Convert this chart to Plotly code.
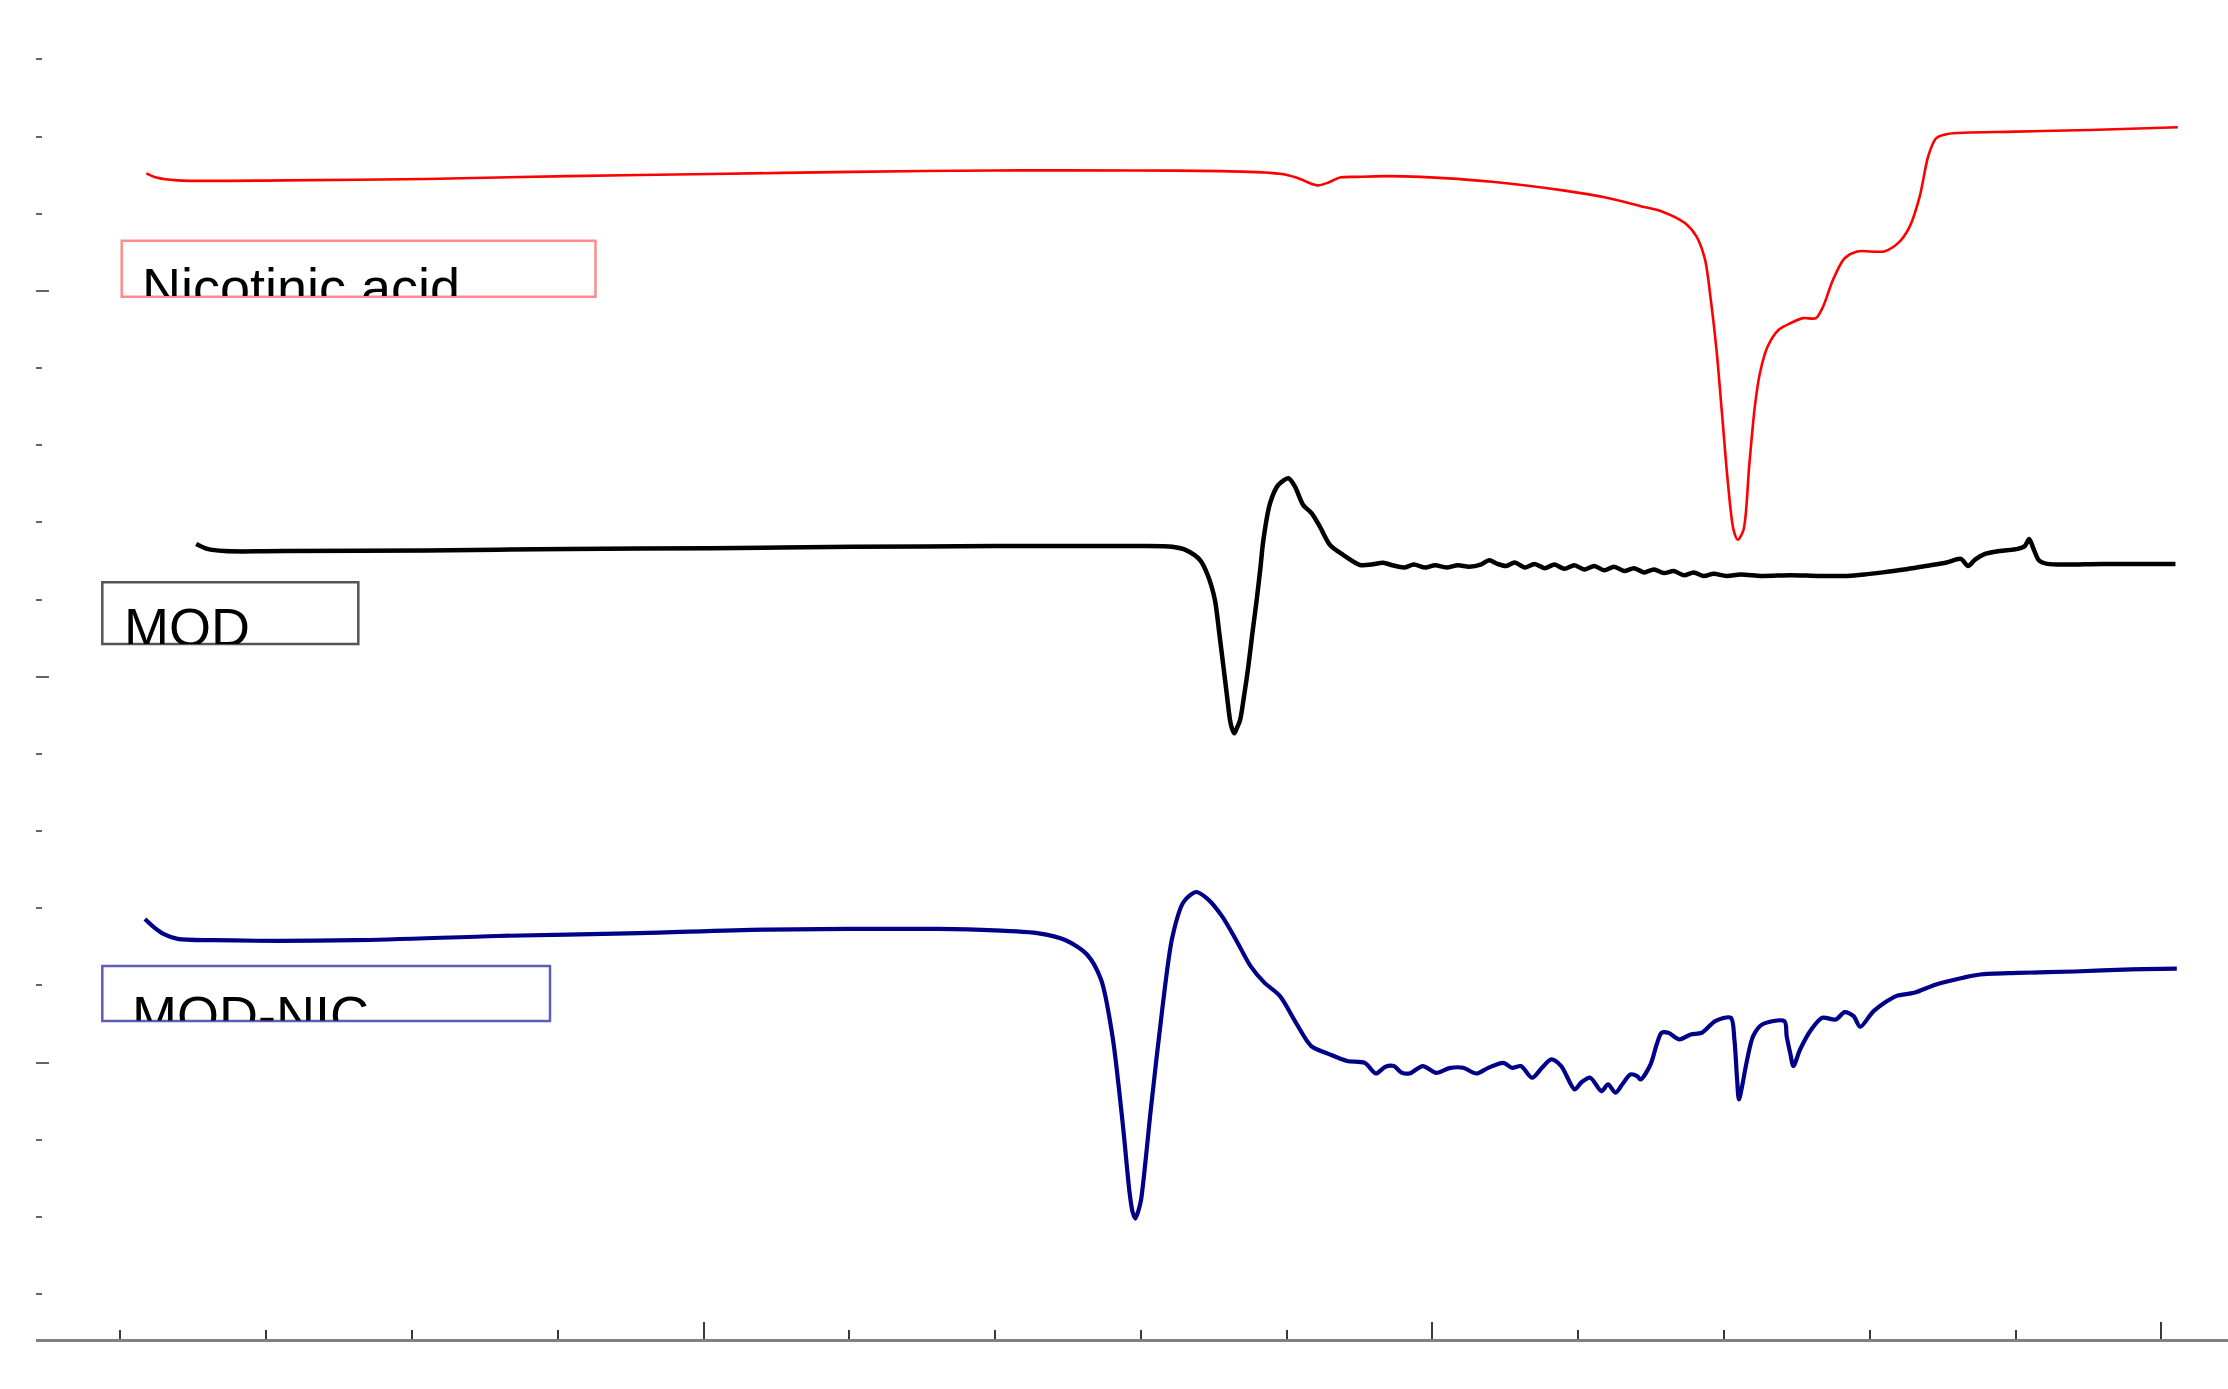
import plotly.graph_objects as go

# ---- Nicotinic acid (red) ----
nic_temp = [23.56, 24.93, 27.85, 42.47, 61.97, 81.46, 100.96, 120.45, 139.94, 159.44,
            171.13, 176.98, 179.91, 181.86, 183.22, 184.39, 185.75, 187.31, 189.65, 193.55,
            198.43, 208.17, 217.92, 223.77, 228.45, 231.56, 234.68, 236.24, 237.41, 238.19,
            238.97, 239.76, 240.54, 241.31, 241.90, 242.68, 243.46, 244.24, 244.92, 245.99,
            247.55, 249.11, 250.86, 252.62, 253.59, 254.96, 256.52, 258.27, 261.98, 263.92,
            265.48, 266.85, 268.02, 269.09, 270.65, 279.91, 290.25, 302.27]
nic_flow = [15.524, 15.469, 15.432, 15.432, 15.451, 15.488, 15.515, 15.543, 15.561, 15.561,
            15.552, 15.534, 15.506, 15.451, 15.395, 15.368, 15.405, 15.469, 15.478, 15.488,
            15.478, 15.414, 15.303, 15.211, 15.101, 15.027, 14.876, 14.703, 14.402, 13.886,
            13.242, 12.377, 11.512, 10.904, 10.775, 10.904, 11.733, 12.506, 12.929, 13.279,
            13.500, 13.581, 13.647, 13.647, 13.794, 14.144, 14.420, 14.512, 14.512, 14.622,
            14.834, 15.222, 15.745, 15.977, 16.034, 16.064, 16.086, 16.121]

# ---- MOD (black) ----
mod_temp = [30.39, 31.95, 34.29, 42.47, 61.97, 81.46, 100.96, 120.45, 139.94, 159.44,
            164.31, 166.26, 168.11, 169.18, 170.16, 170.74, 171.33, 171.82, 172.23, 172.50,
            172.81, 173.15, 173.61, 174.16, 174.74, 175.32, 175.89, 176.40, 176.81, 177.72,
            178.85, 180.24, 181.15, 182.28, 183.43, 184.56, 185.95, 187.78, 190.06, 191.60,
            193.26, 194.53, 196.09, 197.45, 199.01, 200.37, 201.93, 203.49, 205.05, 206.61,
            207.78, 208.95, 210.12, 211.29, 212.66, 214.02, 215.39, 216.75, 218.11, 219.48,
            220.84, 222.21, 223.57, 224.94, 226.30, 227.67, 229.03, 230.40, 231.76, 233.12,
            234.49, 235.85, 237.22, 238.58, 240.34, 242.29, 245.21, 249.11, 253.01, 256.91,
            259.25, 261.78, 264.71, 267.63, 270.55, 272.50, 273.48, 274.45, 275.82, 277.77,
            280.30, 281.28, 281.86, 282.44, 283.22, 284.39, 292.00, 301.94]
mod_flow = [10.720, 10.656, 10.628, 10.628, 10.637, 10.656, 10.665, 10.683, 10.693, 10.693,
            10.683, 10.637, 10.512, 10.315, 9.995, 9.579, 9.130, 8.751, 8.438, 8.330,
            8.266, 8.330, 8.438, 8.751, 9.130, 9.579, 9.995, 10.407, 10.772, 11.247,
            11.484, 11.571, 11.462, 11.224, 11.118, 10.945, 10.707, 10.577, 10.448, 10.453,
            10.477, 10.444, 10.416, 10.453, 10.416, 10.444, 10.416, 10.444, 10.426, 10.453,
            10.508, 10.462, 10.435, 10.481, 10.416, 10.462, 10.407, 10.453, 10.398, 10.444,
            10.389, 10.435, 10.379, 10.426, 10.370, 10.407, 10.352, 10.389, 10.343, 10.370,
            10.315, 10.352, 10.306, 10.334, 10.306, 10.324, 10.306, 10.315, 10.306, 10.306,
            10.324, 10.352, 10.389, 10.435, 10.481, 10.527, 10.435, 10.518, 10.591, 10.628,
            10.656, 10.693, 10.785, 10.665, 10.508, 10.462, 10.462, 10.462]

# ---- MOD-NIC (blue) ----
modnic_temp = [23.37, 24.54, 25.90, 27.85, 32.73, 52.22, 71.71, 91.21, 108.75, 132.15,
               139.94, 145.79, 149.69, 152.61, 154.56, 156.12, 157.49, 158.46, 158.85, 159.24,
               159.63, 160.02, 161.39, 162.95, 164.31, 165.87, 167.62, 169.18, 171.13, 173.08,
               175.03, 176.98, 179.09, 181.27, 183.38, 185.75, 188.29, 190.72, 192.25, 193.55,
               194.72, 195.70, 196.87, 198.68, 200.53, 202.32, 204.20, 206.03, 207.59, 209.73,
               210.90, 212.15, 213.69, 215.00, 216.32, 217.67, 219.52, 220.45, 221.66, 223.18,
               224.10, 225.13, 226.11, 227.16, 228.08, 228.56, 229.93, 230.79, 231.45, 232.36,
               233.90, 235.43, 236.97, 238.80, 240.94, 241.43, 241.80, 242.05, 242.48, 243.09,
               244.00, 245.23, 248.29, 248.60, 249.11, 249.52, 250.44, 251.98, 253.50, 255.33,
               256.56, 257.78, 258.70, 260.53, 263.61, 266.07, 269.11, 272.80, 275.12, 280.30,
               288.10, 295.90, 302.13]
modnic_flow = [5.861, 5.759, 5.667, 5.603, 5.585, 5.585, 5.640, 5.677, 5.723, 5.732,
               5.713, 5.677, 5.585, 5.400, 5.069, 4.333, 3.228, 2.308, 2.069, 1.977,
               2.069, 2.216, 3.413, 4.701, 5.621, 6.082, 6.210, 6.118, 5.897, 5.585,
               5.253, 5.032, 4.861, 4.517, 4.213, 4.112, 4.020, 3.996, 3.858, 3.946,
               3.954, 3.873, 3.858, 3.954, 3.867, 3.928, 3.932, 3.858, 3.928, 3.996,
               3.932, 3.954, 3.803, 3.928, 4.040, 3.954, 3.652, 3.744, 3.803, 3.630,
               3.716, 3.608, 3.725, 3.845, 3.825, 3.781, 3.976, 4.241, 4.386, 4.386,
               4.300, 4.364, 4.386, 4.537, 4.580, 4.300, 3.781, 3.521, 3.689, 3.996,
               4.342, 4.493, 4.537, 4.342, 4.112, 3.954, 4.169, 4.429, 4.580, 4.557,
               4.653, 4.602, 4.464, 4.666, 4.861, 4.903, 5.012, 5.099, 5.141, 5.161,
               5.180, 5.207, 5.216]

series_names = ["Nicotinic acid", "MOD", "MOD-NIC"]
series_colors = ["#ff0000", "#000000", "#000088"]
series_widths = [2.6, 4.5, 4.2]
series_x = [nic_temp, mod_temp, modnic_temp]
series_y = [nic_flow, mod_flow, modnic_flow]

fig = go.Figure()
for name, col, w, xs, ys in zip(series_names, series_colors, series_widths, series_x, series_y):
    fig.add_trace(go.Scatter(x=xs, y=ys, mode="lines", name=name,
                             line=dict(color=col, width=w, shape="spline", smoothing=0.8),
                             hoverinfo="skip"))

# label boxes (paper coordinates) and clipped label text
label_boxes = [
    # x0, x1, y_bottom, y_top, border colour
    (0.03910, 0.25525, 0.77842, 0.82024, "rgba(255,0,0,0.45)"),
    (0.03025, 0.14704, 0.51905, 0.56512, "#555555"),
    (0.03025, 0.23449, 0.23749, 0.27857, "rgba(40,40,160,0.75)"),
]
label_text_pos = [
    # x (left), y (top), visible height px
    (0.04854, 0.80829, 39),
    (0.04006, 0.55437, 47),
    (0.04370, 0.26438, 35.5),
]
for (x0, x1, y0, y1, bc) in label_boxes:
    fig.add_shape(type="rect", xref="paper", yref="paper", x0=x0, x1=x1, y0=y0, y1=y1,
                  line=dict(color=bc, width=2.5), fillcolor="rgba(0,0,0,0)", layer="above")
for name, (tx, ty, th) in zip(series_names, label_text_pos):
    fig.add_annotation(xref="paper", yref="paper", x=tx, y=ty, xanchor="left", yanchor="top",
                       text=name, showarrow=False, height=th, valign="top", align="left",
                       borderpad=0, borderwidth=0,
                       font=dict(family="Liberation Sans, Arial, sans-serif", size=54, color="#000000"))

fig.update_layout(
    width=2228, height=1389, autosize=False,
    margin=dict(l=36, r=0, t=0, b=50, pad=0),
    paper_bgcolor="white", plot_bgcolor="white", showlegend=False,
    xaxis=dict(range=[8.42, 309.15], showgrid=False, zeroline=False, showticklabels=False,
               showline=True, linecolor="#808080", linewidth=3,
               ticks="inside", ticklen=17, tickwidth=2, tickcolor="#3a3a3a",
               tickmode="linear", tick0=0, dtick=100,
               minor=dict(ticks="inside", ticklen=9, tickwidth=2, tickcolor="#3a3a3a",
                          tick0=0, dtick=20, showgrid=False)),
    yaxis=dict(range=[0.417, 17.770], showgrid=False, zeroline=False, showticklabels=False,
               showline=False, ticks="inside", ticklen=13, tickwidth=2, tickcolor="#666666",
               tickmode="linear", tick0=4, dtick=5,
               minor=dict(ticks="inside", ticklen=6, tickwidth=2, tickcolor="#666666",
                          tick0=0, dtick=1, showgrid=False)),
)

fig.write_html("out.html", config={"displayModeBar": False},
               post_script="document.body.style.margin='0';document.body.style.overflow='hidden';")
